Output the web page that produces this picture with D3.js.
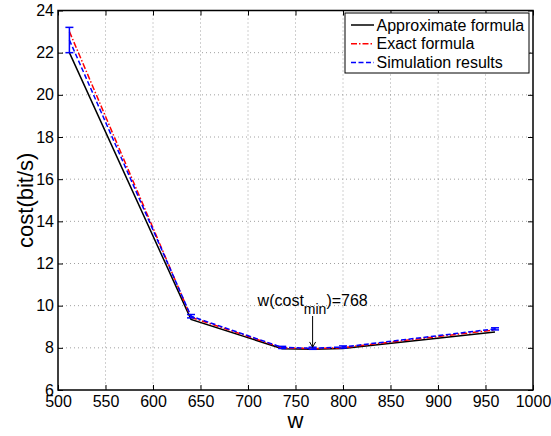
<!DOCTYPE html>
<html>
<head>
<meta charset="utf-8">
<script src="https://cdn.jsdelivr.net/npm/d3@7"></script>
<style>
  body { margin: 0; background: #fff; }
  svg { font-family: Arial, "Liberation Sans", sans-serif; }
</style>
</head>
<body>
<svg id="chart" width="551" height="436"></svg>
<script>
// data
const wValues = [512, 640, 736, 768, 800, 960];
const approxCost = [22.0, 9.35, 7.96, 7.93, 7.97, 8.75];
const exactCost = [23.0, 9.45, 8.0, 7.96, 8.01, 8.85];
const simCost = [22.6, 9.5, 8.02, 7.98, 8.04, 8.9];
const simErr = [0.6, 0.08, 0.05, 0.05, 0.05, 0.05];
const xTicks = [500, 550, 600, 650, 700, 750, 800, 850, 900, 950, 1000];
const yTicks = [6, 8, 10, 12, 14, 16, 18, 20, 22, 24];
const legendLabels = ["Approximate formula", "Exact formula", "Simulation results"];

const margin = { top: 10.5, right: 18, bottom: 46, left: 58 },
      width = 551 - margin.left - margin.right,
      height = 436 - margin.top - margin.bottom;

const svg = d3.select("#chart");
const g = svg.append("g")
    .attr("transform", `translate(${margin.left},${margin.top})`);

const x = d3.scaleLinear().domain([500, 1000]).range([0, width]);
const y = d3.scaleLinear().domain([6, 24]).range([height, 0]);

// grid
g.append("g").selectAll("line")
  .data(xTicks.slice(1, -1)).enter().append("line")
    .attr("x1", d => x(d)).attr("x2", d => x(d))
    .attr("y1", 0).attr("y2", height)
    .attr("stroke", "#888").attr("stroke-width", 0.8)
    .attr("stroke-dasharray", "1,3");
g.append("g").selectAll("line")
  .data(yTicks.slice(1, -1)).enter().append("line")
    .attr("y1", d => y(d)).attr("y2", d => y(d))
    .attr("x1", 0).attr("x2", width)
    .attr("stroke", "#888").attr("stroke-width", 0.8)
    .attr("stroke-dasharray", "1,3");

// axes (ticks inward, MATLAB style)
const axisStyle = sel => {
  sel.select(".domain").remove();
  sel.selectAll(".tick line").attr("stroke", "#000").attr("stroke-width", 1);
  sel.selectAll(".tick text").attr("font-size", "16px").attr("fill", "#000");
};
g.append("g").attr("transform", `translate(0,${height})`)
  .call(d3.axisBottom(x).tickValues(xTicks).tickSize(-5).tickPadding(6).tickFormat(d3.format("d")))
  .call(axisStyle);
g.append("g")
  .call(d3.axisLeft(y).tickValues(yTicks).tickSize(-5).tickPadding(4).tickFormat(d3.format("d")))
  .call(axisStyle);
g.append("g")
  .call(d3.axisTop(x).tickValues(xTicks).tickSize(-5).tickFormat(""))
  .call(axisStyle);
g.append("g").attr("transform", `translate(${width},0)`)
  .call(d3.axisRight(y).tickValues(yTicks).tickSize(-5).tickFormat(""))
  .call(axisStyle);

g.append("rect")
  .attr("width", width).attr("height", height)
  .attr("fill", "none").attr("stroke", "#000").attr("stroke-width", 1.5);

// series
const line = d3.line().x(d => x(d[0])).y(d => y(d[1]));
const series = [
  { vals: approxCost, color: "#000", dash: null },
  { vals: exactCost, color: "#f00", dash: "6,2,1.5,2" },
  { vals: simCost, color: "#00f", dash: "5,2.5" }
];
series.forEach(s => {
  g.append("path")
    .datum(wValues.map((w, i) => [w, s.vals[i]]))
    .attr("d", line)
    .attr("fill", "none")
    .attr("stroke", s.color)
    .attr("stroke-width", 1.5)
    .attr("stroke-dasharray", s.dash);
});

// error bars on simulation
const eb = g.append("g").attr("stroke", "#00f").attr("stroke-width", 1.5);
wValues.forEach((w, i) => {
  const y0 = y(simCost[i] - simErr[i]), y1 = y(simCost[i] + simErr[i]);
  eb.append("line").attr("x1", x(w)).attr("x2", x(w)).attr("y1", y0).attr("y2", y1);
  eb.append("line").attr("x1", x(w) - 4).attr("x2", x(w) + 4).attr("y1", y0).attr("y2", y0);
  eb.append("line").attr("x1", x(w) - 4).attr("x2", x(w) + 4).attr("y1", y1).attr("y2", y1);
});

// annotation
const annX = x(768);
const ann = g.append("text")
  .attr("x", annX - 55).attr("y", 305.5 - margin.top)
  .attr("font-size", "16px").attr("fill", "#000");
ann.append("tspan").text("w(cost");
ann.append("tspan").attr("font-size", "14px").attr("dy", 8).text("min");
ann.append("tspan").attr("dy", -8).text(")=768");
g.append("line")
  .attr("x1", annX).attr("x2", annX)
  .attr("y1", 316 - margin.top).attr("y2", y(8.03))
  .attr("stroke", "#000").attr("stroke-width", 1);
g.append("path")
  .attr("d", `M${annX - 3},${y(8.28)} L${annX},${y(8.03)} L${annX + 3},${y(8.28)}`)
  .attr("fill", "none").attr("stroke", "#000").attr("stroke-width", 1);

// axis labels
svg.append("text")
  .attr("transform", `translate(33,${margin.top + height / 2}) rotate(-90)`)
  .attr("text-anchor", "middle").attr("font-size", "22px")
  .text("cost(bit/s)");
svg.append("text")
  .attr("x", margin.left + width / 2).attr("y", 428)
  .attr("text-anchor", "middle").attr("font-size", "22px")
  .text("w");

// legend
const lg = svg.append("g").attr("transform", "translate(345,13)");
lg.append("rect").attr("width", 184).attr("height", 60)
  .attr("fill", "#fff").attr("stroke", "#000").attr("stroke-width", 1);
legendLabels.forEach((lab, i) => {
  const ly = 12 + i * 18.7;
  lg.append("line").attr("x1", 6).attr("x2", 29).attr("y1", ly).attr("y2", ly)
    .attr("stroke", series[i].color).attr("stroke-width", 1.5)
    .attr("stroke-dasharray", series[i].dash);
  lg.append("text").attr("x", 31.5).attr("y", ly + 5.5)
    .attr("font-size", "16px").text(lab);
});
</script>
</body>
</html>
